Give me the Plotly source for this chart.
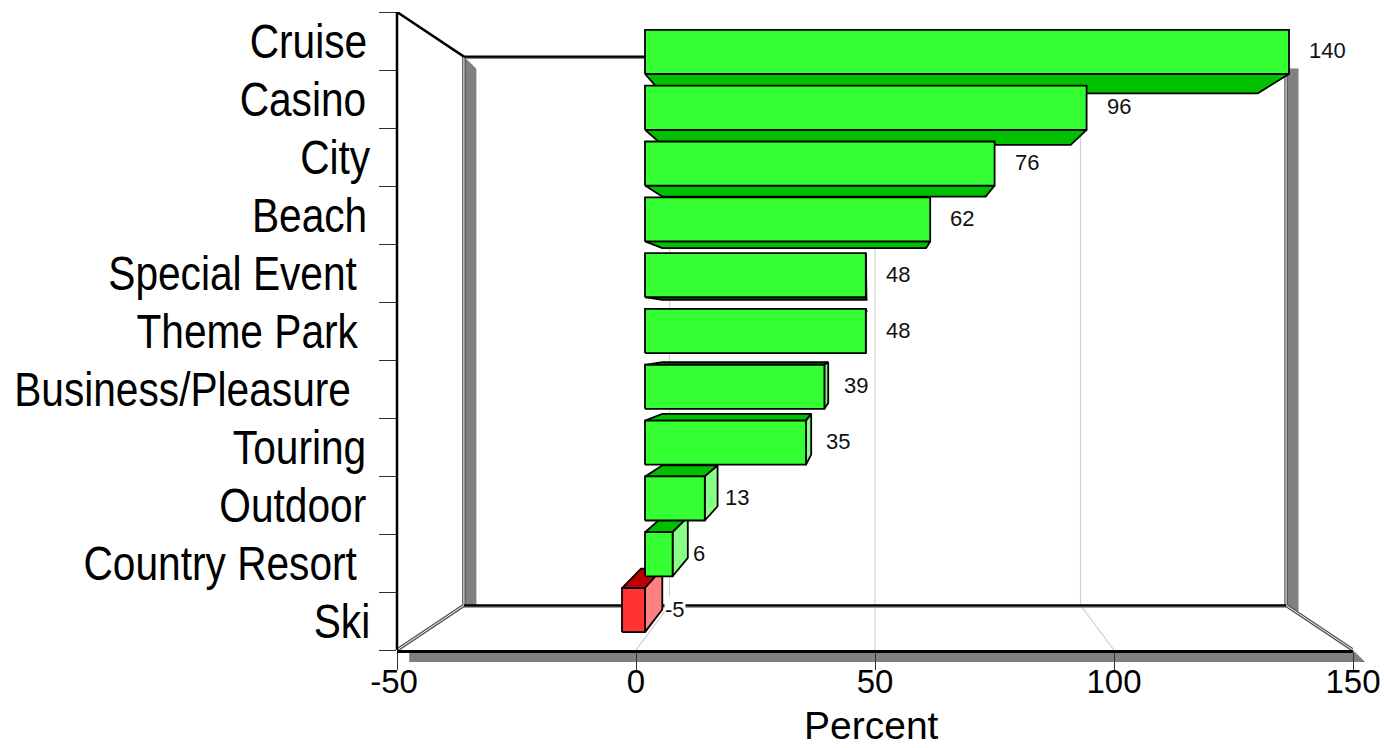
import json

import plotly.graph_objects as go

# Chart data, top of the chart first
categories = ["Cruise", "Casino", "City", "Beach", "Special Event", "Theme Park",
              "Business/Pleasure", "Touring", "Outdoor", "Country Resort", "Ski"]
percent = [140, 96, 76, 62, 48, 48, 39, 35, 13, 6, -5]
trailing_spaces = [0, 0, 0, 0, 1, 1, 1, 0, 0, 1, 0]
x_ticks = [-50, 0, 50, 100, 150]

# Extents of the pseudo-3D box, in axis units
X_MIN, X_MAX = -50, 150
Y_MIN, Y_MAX = 0, len(categories)
X_VANISH, Y_VANISH = (X_MIN + X_MAX) / 2, (Y_MIN + Y_MAX) / 2

# Depth is expressed as a scale toward the vanishing point
S_WALL = 0.86
S_BAR_FRONT = 0.9623
S_BAR_BACK = 0.89
BAR_HALF = 0.395
SHADOW_X, SHADOW_Y = 2.55, 0.207

GREEN = dict(front="#33ff33", cap="#00c000", side="#88ff88")
RED = dict(front="#ff3333", cap="#c00000", side="#ff8080")
SHADOW = "#808080"
GRID = "#d0d0d0"
FONT = "Liberation Sans"

# Small optical corrections to the right-hand end of the category labels, in pixels
LABEL_NUDGE = {"Special Event": 1, "Casino": -1, "City": 3, "Theme Park": 2, "Business/Pleasure": -5,
               "Touring": -1, "Outdoor": -1, "Country Resort": 1, "Ski": 3}


def project(x, y, s):
    return X_VANISH + (x - X_VANISH) * s, Y_VANISH + (y - Y_VANISH) * s


def to_paper(x, y):
    return (x - X_MIN) / (X_MAX - X_MIN), (y - Y_MIN) / (Y_MAX - Y_MIN)


fig = go.Figure()


def path(points, color="black", width=1.0):
    xs, ys = zip(*points)
    fig.add_trace(go.Scatter(x=xs, y=ys, mode="lines", hoverinfo="skip",
                             line=dict(color=color, width=width)))


def polygon(points, fill, line_color="black", width=1.8):
    xs, ys = zip(*(list(points) + [points[0]]))
    fig.add_trace(go.Scatter(x=xs, y=ys, mode="lines", fill="toself", fillcolor=fill,
                             hoverinfo="skip", line=dict(color=line_color, width=width)))


# Back wall corners
wx0, wy0 = project(X_MIN, Y_MIN, S_WALL)
wx1, wy1 = project(X_MAX, Y_MAX, S_WALL)

# Floor shadow: a paper-referenced shape, since it falls outside the plot area
floor_shadow = [to_paper(*p) for p in [(X_MIN + SHADOW_X, Y_MIN), (X_MAX, Y_MIN),
                                       (X_MAX + SHADOW_X, Y_MIN - SHADOW_Y),
                                       (X_MIN + SHADOW_X, Y_MIN - SHADOW_Y)]]
fig.add_shape(type="path", xref="paper", yref="paper", layer="below", fillcolor=SHADOW, line_width=0,
              path="M " + " L ".join(f"{px:.5f},{py:.5f}" for px, py in floor_shadow) + " Z")

# Value-axis side of the box: the left edge sits on the plot-area boundary
fig.add_shape(type="line", xref="paper", yref="paper", x0=0, x1=0, y0=0, y1=1, layer="above",
              line=dict(color="black", width=2.5))

# Wall shadows
plain = dict(line_color=SHADOW, width=0.5)
polygon([(wx0, wy1), (wx0 + SHADOW_X, wy1 - SHADOW_Y), (wx0 + SHADOW_X, wy0), (wx0, wy0)], SHADOW, **plain)
polygon([(wx1, wy1 - SHADOW_Y), (wx1 + SHADOW_X, wy1 - SHADOW_Y), (wx1 + SHADOW_X, wy0 - SHADOW_Y / 2),
         (wx1, wy0)], SHADOW, **plain)

# Gridlines across the floor and up the back wall
for tick in x_ticks[1:-1]:
    gx, gy = project(tick, Y_MIN, S_WALL)
    _, gy_top = project(tick, Y_MAX, S_WALL)
    path([(tick, Y_MIN), (gx, gy), (gx, gy_top)], GRID, 1.2)

# Box edges: doubled strokes on the wall sides and floor sides
for edge in ([(X_MIN, Y_MIN), (wx0, wy0), (wx0, wy1)], [(X_MAX, Y_MIN), (wx1, wy0), (wx1, wy1)]):
    path(edge, "#505050", 3.5)
    path(edge, "white", 1.0)
path([(wx0, wy1 - 0.02), (wx1, wy1 - 0.02)], SHADOW, 2.5)
path([(wx0, wy0 - 0.02), (wx1, wy0 - 0.02)], SHADOW, 2.5)
path([(wx0, wy1), (wx1, wy1)], "black", 2.2)
path([(wx0, wy0), (wx1, wy0)], "black", 2.2)
path([(X_MIN, Y_MAX), (wx0, wy1)], "black", 2.5)

# Bars: depth faces first, so that every front face sits over its neighbours
centres = [Y_MAX - i - 0.5 for i in range(len(categories))]
for value, yc in zip(percent, centres):
    colors = GREEN if value >= 0 else RED
    lo, hi = min(0, value), max(0, value)
    y_edge = yc - BAR_HALF if yc > Y_VANISH else yc + BAR_HALF
    polygon([project(lo, y_edge, S_BAR_FRONT), project(hi, y_edge, S_BAR_FRONT),
             project(hi, y_edge, S_BAR_BACK), project(lo, y_edge, S_BAR_BACK)], colors["cap"])
    if hi < X_VANISH:
        polygon([project(hi, yc - BAR_HALF, S_BAR_FRONT), project(hi, yc + BAR_HALF, S_BAR_FRONT),
                 project(hi, yc + BAR_HALF, S_BAR_BACK), project(hi, yc - BAR_HALF, S_BAR_BACK)], colors["side"])

for value, yc in zip(percent, centres):
    colors = GREEN if value >= 0 else RED
    lo, hi = min(0, value), max(0, value)
    polygon([project(lo, yc - BAR_HALF, S_BAR_FRONT), project(hi, yc - BAR_HALF, S_BAR_FRONT),
             project(hi, yc + BAR_HALF, S_BAR_FRONT), project(lo, yc + BAR_HALF, S_BAR_FRONT)], colors["front"])
    lx, ly = project(hi, yc, S_BAR_FRONT)
    # The negative bar's label sits on the wall's base line, so it gets a white backing
    fig.add_annotation(x=lx, y=ly, text=str(value), showarrow=False, xanchor="left", yanchor="middle",
                       xshift=19, yshift=1, borderpad=0,
                       bgcolor="white" if value < 0 else "rgba(0,0,0,0)",
                       font=dict(family=FONT, size=22, color="#111111"))

# Axis title, centred just left of the middle of the value axis
fig.add_annotation(x=49.2, y=0, yref="paper", text="Percent", showarrow=False, yanchor="middle", yshift=-75,
                   borderpad=0, font=dict(family=FONT, size=39, color="black"))

fig.update_layout(
    width=1384, height=748, autosize=False,
    margin=dict(l=397, r=31, t=12, b=98, autoexpand=False),
    paper_bgcolor="white", plot_bgcolor="white", showlegend=False,
    xaxis=dict(
        range=[X_MIN, X_MAX], tickvals=x_ticks, ticktext=[str(t) for t in x_ticks],
        automargin=False,
        showgrid=False, zeroline=False, showline=True, linecolor="black", linewidth=2.5,
        ticks="outside", ticklen=1, tickcolor="rgba(0,0,0,0)",
        tickfont=dict(family=FONT, size=33, color="black"),
        minor=dict(tickvals=x_ticks, ticks="outside", ticklen=17, tickwidth=1,
                   tickcolor="#303030", showgrid=False),
    ),
    yaxis=dict(
        range=[Y_MIN, Y_MAX], tickvals=centres, automargin=False,
        ticktext=[name + "\u00a0" * n for name, n in zip(categories, trailing_spaces)],
        showgrid=False, zeroline=False, showline=False,
        ticks="outside", ticklen=19, tickcolor="rgba(0,0,0,0)",
        tickfont=dict(family=FONT, size=49, color="black"),
        minor=dict(tickvals=list(range(Y_MIN, Y_MAX + 1)), ticks="outside", ticklen=17, tickwidth=1,
                   tickcolor="#303030", showgrid=False),
    ),
)

# Condense the category labels horizontally, anchored on their right-hand end,
# and ease the leftmost value label away from its tick
condense = """
var gd = document.getElementById('{plot_id}');
var nudge = %s;
gd.querySelectorAll('.ytick text').forEach(function (t) {
  var x = t.getAttribute('x') || 0;
  var base = t.getAttribute('transform') || '';
  var shift = nudge[t.textContent.trim()] || 0;
  t.setAttribute('transform', base + ' translate(' + (+x + shift) + ',0) scale(0.83,1) translate(' + (-x) + ',0)');
});
gd.querySelectorAll('.xtick text').forEach(function (t) {
  if (t.textContent.trim() === '-50') {
    t.setAttribute('transform', (t.getAttribute('transform') || '') + ' translate(-3,0)');
  }
});
""" % json.dumps(LABEL_NUDGE)

fig.write_html("out.html", post_script=condense)
